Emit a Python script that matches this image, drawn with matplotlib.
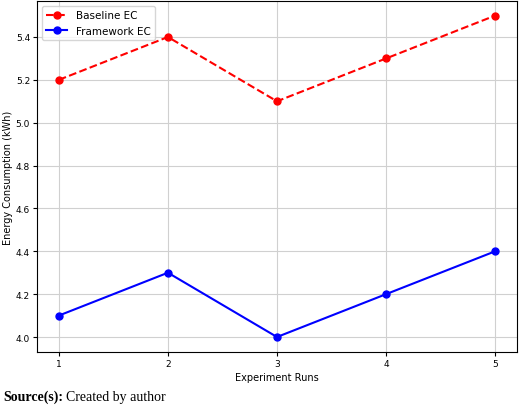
import matplotlib
matplotlib.use("Agg")
import matplotlib.pyplot as plt

runs = [1, 2, 3, 4, 5]
baseline_ec = [5.2, 5.4, 5.1, 5.3, 5.5]
framework_ec = [4.1, 4.3, 4.0, 4.2, 4.4]

fig = plt.figure(figsize=(5.2, 4.06), dpi=100)
ax = fig.add_axes([37/520, 1-353/406, 480/520, 351/406])
ax.plot(runs, baseline_ec, 'r--o', label='Baseline EC', markersize=5)
ax.plot(runs, framework_ec, 'b-o', label='Framework EC', markersize=5)
ax.set_xticks(runs)
ax.set_yticks([4.0, 4.2, 4.4, 4.6, 4.8, 5.0, 5.2, 5.4])
ax.set_ylim(3.93, 5.568)
ax.tick_params(labelsize=6.5, length=3, pad=2)
ax.set_xlabel('Experiment Runs', fontsize=7, labelpad=3)
ax.set_ylabel('Energy Consumption (kWh)', fontsize=7, labelpad=2)
ax.grid(True, color='#d0d0d0')
ax.legend(loc='upper left', fontsize=7.5)

t = fig.text(3/520, 1-401/406, 'Source(s):', fontsize=10, fontweight='bold', family='Liberation Serif')
fig.canvas.draw()
bb = t.get_window_extent()
fig.text((bb.x1 + 3)/520, 1-401/406, 'Created by author', fontsize=10, family='Liberation Serif')
fig.savefig('out.png', dpi=100)
